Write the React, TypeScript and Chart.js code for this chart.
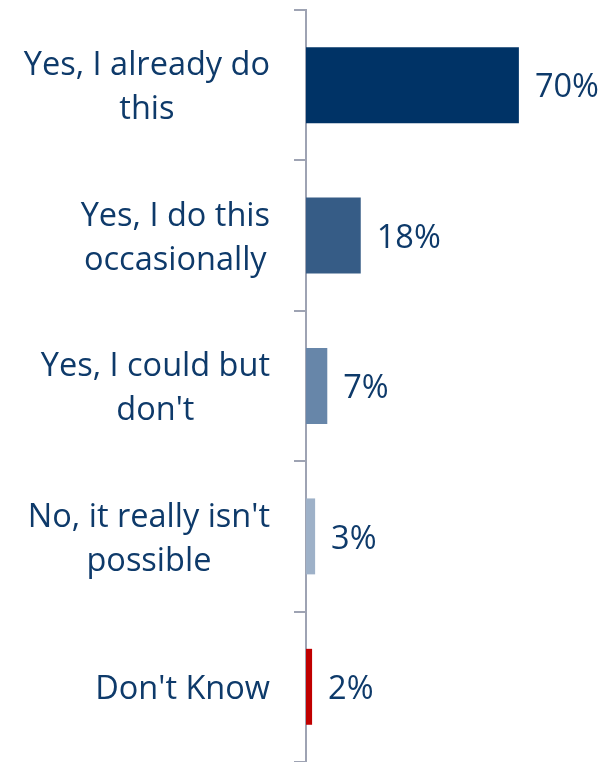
import React, { useEffect, useRef } from "react";
import { Chart, registerables } from "chart.js";

Chart.register(...registerables);

const categories: string[][] = [
  ["Yes, I already do", "this"],
  ["Yes, I do this", "occasionally"],
  ["Yes, I could but", "don't"],
  ["No, it really isn't", "possible"],
  ["Don't Know"],
];
const values: number[] = [70, 18, 7, 3, 2];
const valueLabels: string[] = ["70%", "18%", "7%", "3%", "2%"];
const barColors: string[] = ["#003366", "#365c86", "#6786a9", "#9eb1c8", "#c00000"];

const TEXT_COLOR = "#0e3a6a";
const FONT_FAMILY = "'Open Sans', sans-serif";
const FONT_SIZE = 32.5;
const LINE_GAP = 44;

export default function App() {
  const ref = useRef<HTMLCanvasElement | null>(null);

  useEffect(() => {
    if (!ref.current) return;

    const labelPlugin = {
      id: "customLabels",
      afterDraw(chart: any) {
        const ctx = chart.ctx;
        const yScale = chart.scales.y;
        ctx.save();
        ctx.font = `${FONT_SIZE}px ${FONT_FAMILY}`;
        ctx.fillStyle = TEXT_COLOR;
        ctx.textBaseline = "middle";
        ctx.textAlign = "center";
        const rightEdge = 270;
        categories.forEach((lines, i) => {
          const cy = yScale.getPixelForTick(i) + 3;
          const w = Math.max(...lines.map((l) => ctx.measureText(l).width));
          const cx = rightEdge - w / 2;
          lines.forEach((line, j) => {
            ctx.fillText(line, cx, cy + (j - (lines.length - 1) / 2) * LINE_GAP);
          });
        });
        const meta = chart.getDatasetMeta(0);
        ctx.textAlign = "left";
        meta.data.forEach((bar: any, i: number) => {
          ctx.fillText(valueLabels[i], bar.x + 16, bar.y + 3);
        });
        ctx.restore();
      },
    };

    const chart = new Chart(ref.current, {
      type: "bar",
      data: {
        labels: categories.map((c) => c.join(" ")),
        datasets: [
          {
            data: values,
            backgroundColor: barColors,
            borderWidth: 0,
            categoryPercentage: 1,
            barPercentage: 0.505,
          },
        ],
      },
      options: {
        indexAxis: "y",
        responsive: false,
        animation: false,
        layout: { padding: { top: 10, right: 0, bottom: 0, left: 0 } },
        plugins: {
          legend: { display: false },
          tooltip: { enabled: false },
          title: { display: false },
        },
        scales: {
          x: {
            display: false,
            min: 0,
            max: 97,
          },
          y: {
            type: "category",
            offset: true,
            afterFit: (scale: any) => {
              scale.width = 306;
            },
            grid: {
              offset: true,
              drawOnChartArea: false,
              drawTicks: true,
              tickLength: 12,
              color: "#9ea3b3",
              lineWidth: 2,
            },
            border: { display: true, color: "#9ea3b3", width: 2 },
            ticks: { display: false },
          },
        },
      },
      plugins: [labelPlugin],
    } as any);

    return () => chart.destroy();
  }, []);

  return (
    <div style={{ position: "fixed", left: 0, top: 0, width: 601, height: 762, background: "#fff" }}>
      <canvas ref={ref} width={601} height={762} style={{ display: "block" }} />
    </div>
  );
}
